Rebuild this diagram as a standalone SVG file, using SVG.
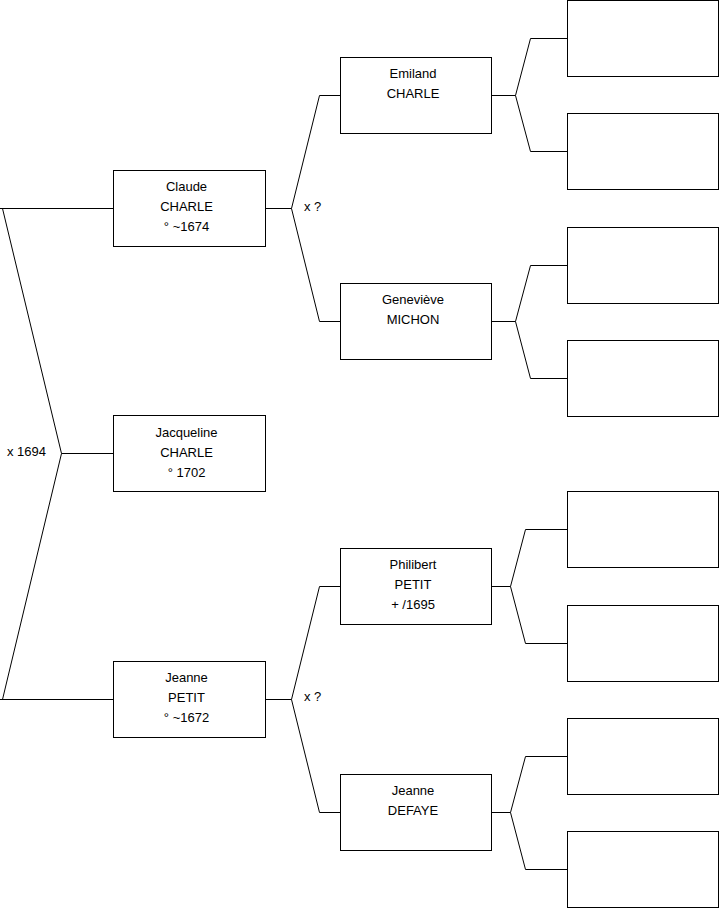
<svg xmlns="http://www.w3.org/2000/svg" width="719" height="908" viewBox="0 0 719 908">
<style>
  .box { fill: #ffffff; stroke: #000000; stroke-width: 1; }
  .ln { fill: none; stroke: #000000; stroke-width: 1; }
  text { font-family: "Liberation Sans", Arial, sans-serif; font-size: 13px; fill: #000000; }
  .c { text-anchor: middle; }
</style>
<rect width="719" height="908" fill="#ffffff"/>
<g id="connectors">
  <path class="ln" d="M0,208.5 H113.5 M2.5,208.5 L61.5,453.5 L2.5,699.5 M0,699.5 H113.5 M61.5,453.5 H113.5"/>
  <path class="ln" d="M265.5,208.5 H291.5 M319.5,95.5 L291.5,208.5 L319.5,321.5 M319.5,95.5 H340.5 M319.5,321.5 H340.5"/>
  <path class="ln" d="M265.5,699.5 H291.5 M319.5,586.5 L291.5,699.5 L319.5,812.5 M319.5,586.5 H340.5 M319.5,812.5 H340.5"/>
  <path class="ln" d="M491.5,95.5 H515.5 M530.5,38.5 L515.5,95.5 L530.5,151.5 M530.5,38.5 H567.5 M530.5,151.5 H567.5"/>
  <path class="ln" d="M491.5,321.5 H515.5 M530.5,265.5 L515.5,321.5 L530.5,378.5 M530.5,265.5 H567.5 M530.5,378.5 H567.5"/>
  <path class="ln" d="M491.5,586.5 H510.5 M525.5,529.5 L510.5,586.5 L525.5,643.5 M525.5,529.5 H567.5 M525.5,643.5 H567.5"/>
  <path class="ln" d="M491.5,812.5 H510.5 M525.5,756.5 L510.5,812.5 L525.5,869.5 M525.5,756.5 H567.5 M525.5,869.5 H567.5"/>
  <text x="7" y="456">x 1694</text>
  <text x="304" y="211">x ?</text>
  <text x="304" y="701">x ?</text>
</g>
<g id="jacqueline">
  <rect class="box" x="113.5" y="415.5" width="152" height="76"/>
  <text class="c" x="186.5" y="437">Jacqueline</text>
  <text class="c" x="186.5" y="457">CHARLE</text>
  <text class="c" x="186.5" y="477">° 1702</text>
</g>
<g id="claude">
  <rect class="box" x="113.5" y="170.5" width="152" height="76"/>
  <text class="c" x="186.5" y="191">Claude</text>
  <text class="c" x="186.5" y="211">CHARLE</text>
  <text class="c" x="186.5" y="231">° ~1674</text>
</g>
<g id="jeanne-petit">
  <rect class="box" x="113.5" y="661.5" width="152" height="76"/>
  <text class="c" x="186.5" y="682">Jeanne</text>
  <text class="c" x="186.5" y="702">PETIT</text>
  <text class="c" x="186.5" y="722">° ~1672</text>
</g>
<g id="emiland">
  <rect class="box" x="340.5" y="57.5" width="151" height="76"/>
  <text class="c" x="413" y="78">Emiland</text>
  <text class="c" x="413" y="98">CHARLE</text>
</g>
<g id="genevieve">
  <rect class="box" x="340.5" y="283.5" width="151" height="76"/>
  <text class="c" x="413" y="304">Geneviève</text>
  <text class="c" x="413" y="324">MICHON</text>
</g>
<g id="philibert">
  <rect class="box" x="340.5" y="548.5" width="151" height="76"/>
  <text class="c" x="413" y="569">Philibert</text>
  <text class="c" x="413" y="589">PETIT</text>
  <text class="c" x="413" y="609">+ /1695</text>
</g>
<g id="jeanne-defaye">
  <rect class="box" x="340.5" y="774.5" width="151" height="76"/>
  <text class="c" x="413" y="795">Jeanne</text>
  <text class="c" x="413" y="815">DEFAYE</text>
</g>
<g id="g3-1"><rect class="box" x="567.5" y="0.5" width="151" height="76"/></g>
<g id="g3-2"><rect class="box" x="567.5" y="113.5" width="151" height="76"/></g>
<g id="g3-3"><rect class="box" x="567.5" y="227.5" width="151" height="76"/></g>
<g id="g3-4"><rect class="box" x="567.5" y="340.5" width="151" height="76"/></g>
<g id="g3-5"><rect class="box" x="567.5" y="491.5" width="151" height="76"/></g>
<g id="g3-6"><rect class="box" x="567.5" y="605.5" width="151" height="76"/></g>
<g id="g3-7"><rect class="box" x="567.5" y="718.5" width="151" height="76"/></g>
<g id="g3-8"><rect class="box" x="567.5" y="831.5" width="151" height="76"/></g>
</svg>
